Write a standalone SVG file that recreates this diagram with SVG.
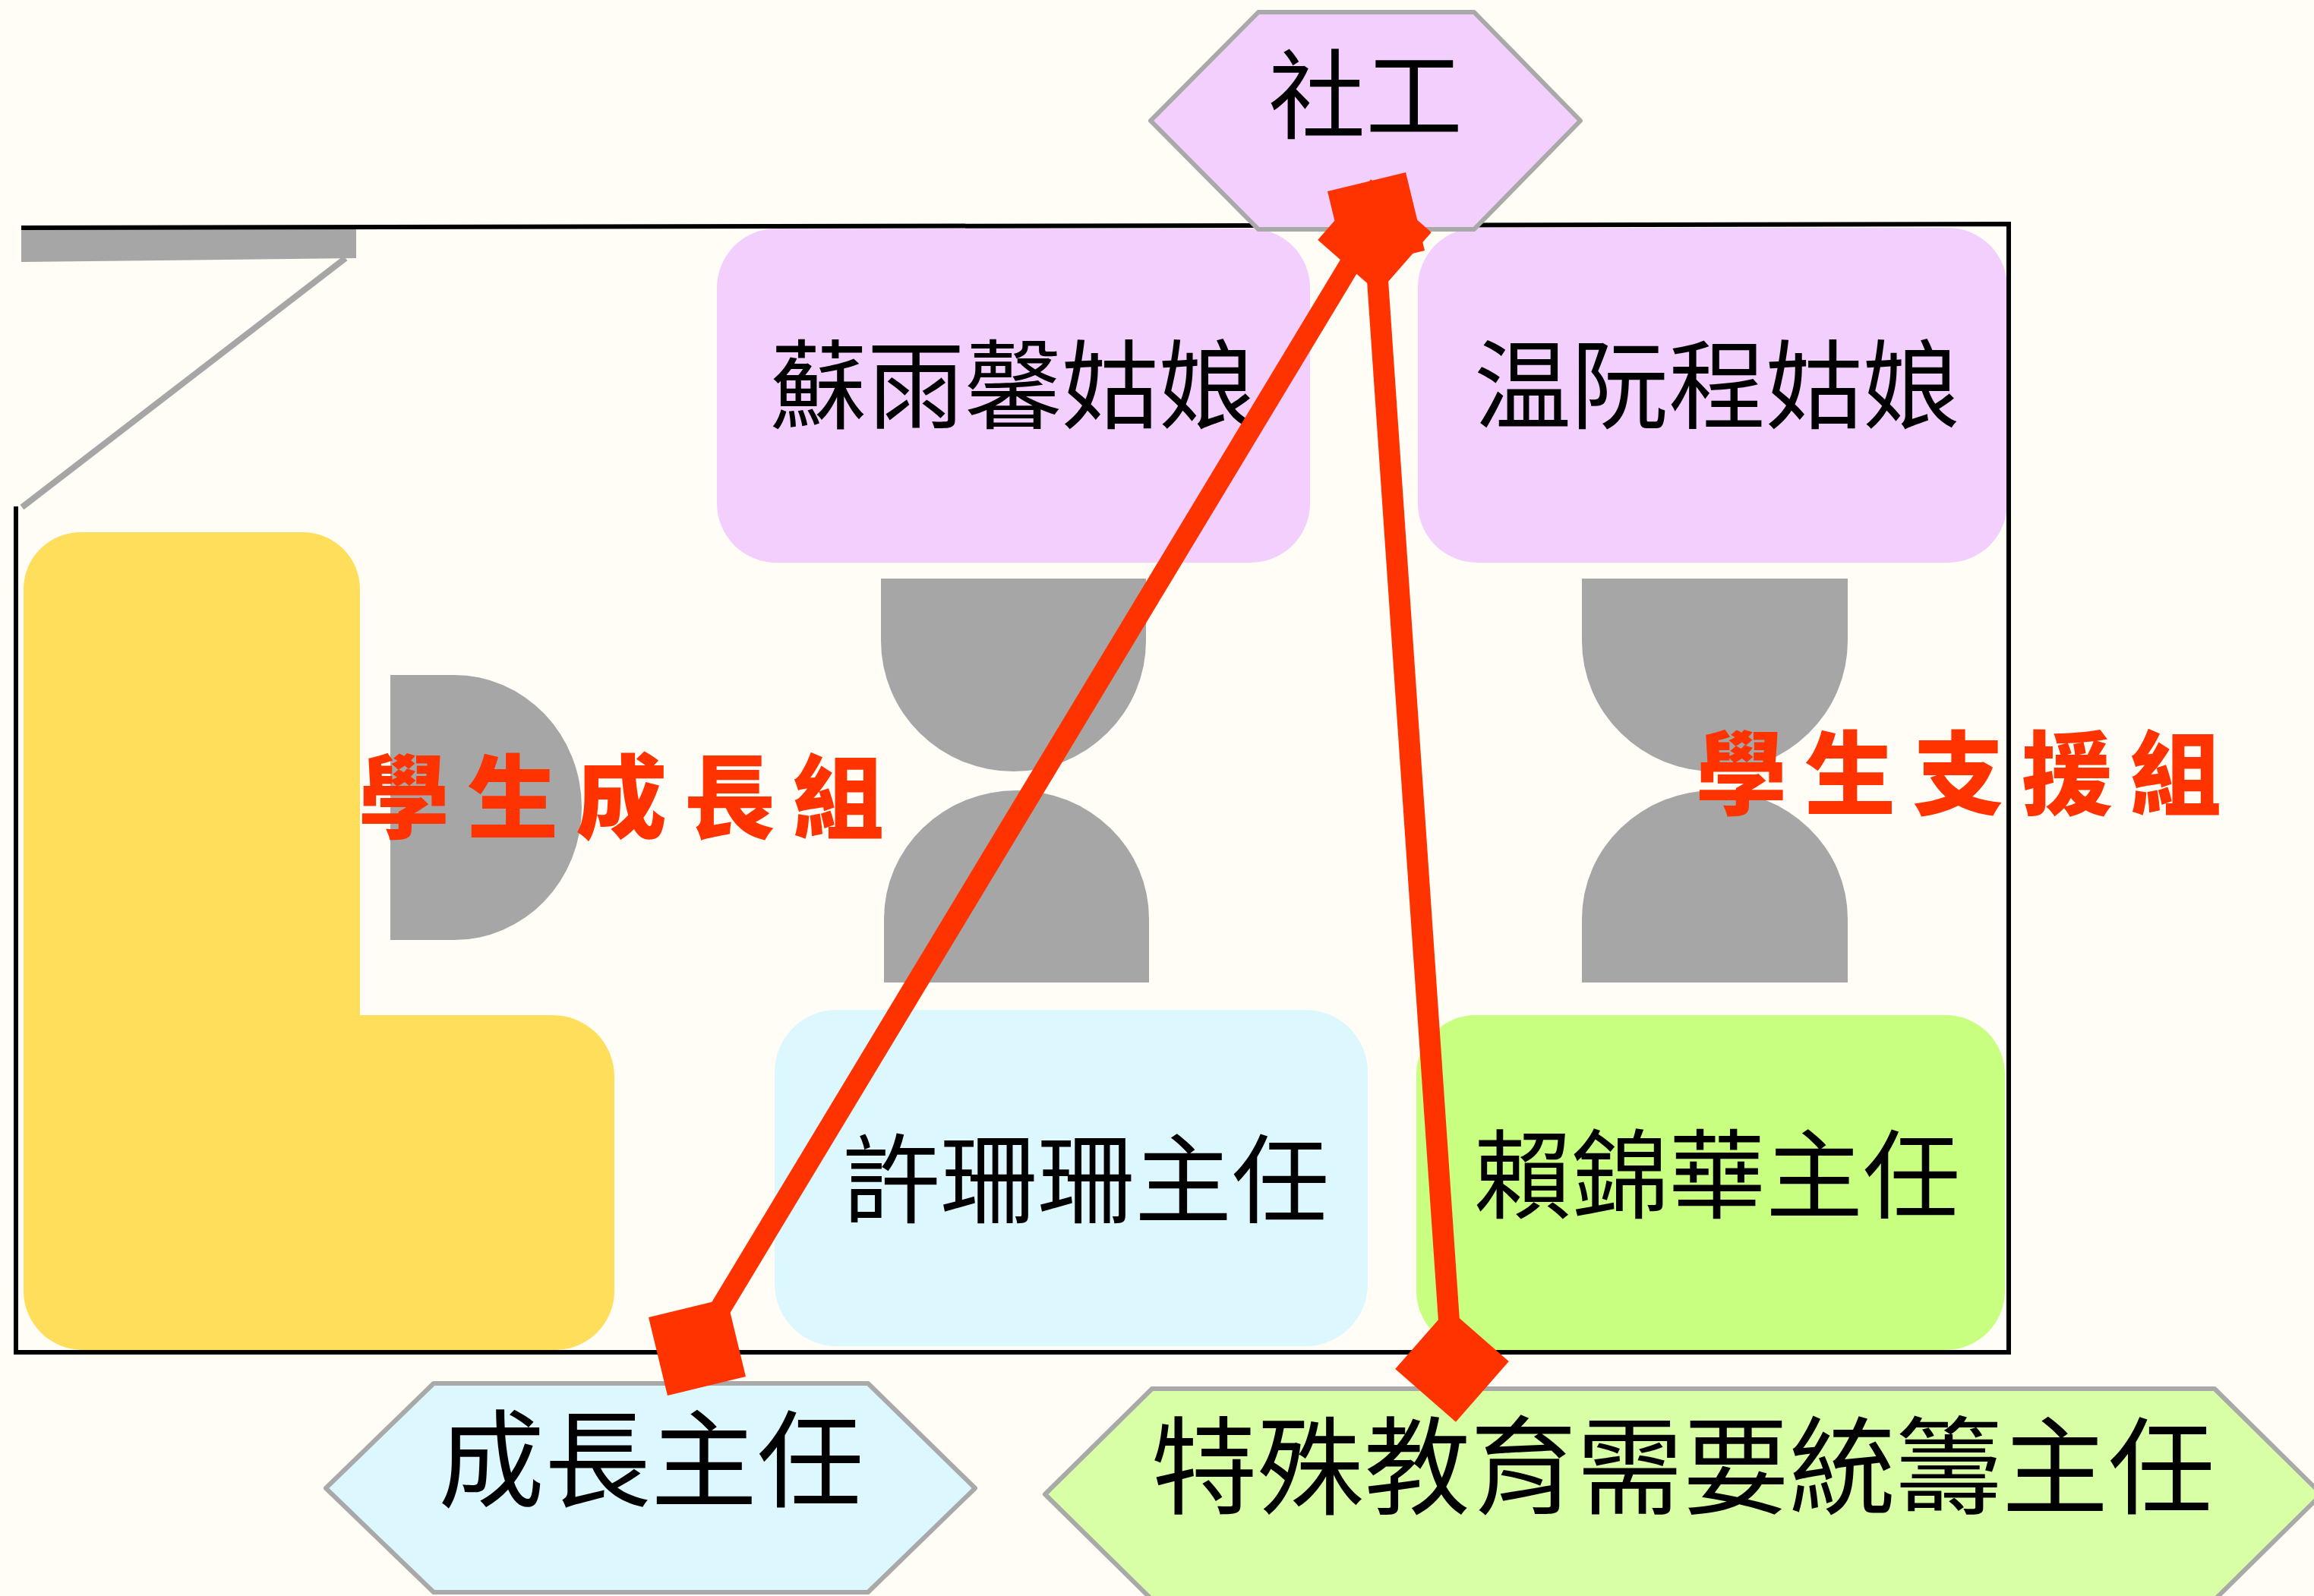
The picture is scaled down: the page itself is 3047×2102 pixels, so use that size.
<svg xmlns="http://www.w3.org/2000/svg" xmlns:xlink="http://www.w3.org/1999/xlink" width="3047" height="2102" viewBox="0 0 3047 2102">
<style>
.lbl{font-family:"Noto Sans CJK TC","Noto Sans CJK SC",sans-serif;font-size:128px;fill:#000;text-anchor:middle}
.big{font-size:140px}
.grp{font-family:"Noto Sans CJK TC","Noto Sans CJK SC",sans-serif;font-size:120px;font-weight:900;fill:#ff3300;letter-spacing:23px}
.hex{stroke:#a9a9a9;stroke-width:6;stroke-linejoin:round}
.desk{fill:#a6a6a6}
.conn{stroke:#ff3300;stroke-width:28;fill:none}
.mk{fill:#ff3300}
</style>
<defs>
<rect id="mk" x="-53" y="-53" width="106" height="106"/>
</defs>
<rect width="3047" height="2102" fill="#fffdf6"/>

<g id="door">
<polygon points="28,302 469,302 469,340 28,345" fill="#a6a6a6"/>
<line x1="455" y1="340" x2="29" y2="668" stroke="#a6a6a6" stroke-width="8"/>
</g>

<g id="cabinet">
<path d="M31,776 A75,75 0 0 1 106,701 L399,701 A75,75 0 0 1 474,776 L474,1337 L728,1337 A81,81 0 0 1 809,1418 L809,1700 A78,78 0 0 1 731,1778 L109,1778 A78,78 0 0 1 31,1700 Z" fill="#ffde5c"/>
</g>

<g id="desks">
<path class="desk" d="M514,889 L598,889 A168,174.5 0 0 1 598,1238 L514,1238 Z"/>
<path class="desk" d="M1160,762 L1509,762 L1509,844 A174.5,172 0 0 1 1160,844 Z"/>
<path class="desk" d="M1164,1294 L1513,1294 L1513,1210 A174.5,169 0 0 0 1164,1210 Z"/>
<path class="desk" d="M2083,762 L2433,762 L2433,844 A175,172 0 0 1 2083,844 Z"/>
<path class="desk" d="M2083,1294 L2433,1294 L2433,1210 A175,169 0 0 0 2083,1210 Z"/>
</g>

<g id="node-su">
<rect x="944" y="301" width="781" height="440" rx="78" fill="#f3cffe"/>
<text class="lbl" x="1334" y="555">蘇雨馨姑娘</text>
</g>
<g id="node-wan">
<rect x="1867" y="300" width="776" height="441" rx="78" fill="#f3cffe"/>
<text class="lbl" x="2261" y="555">温阮程姑娘</text>
</g>
<g id="node-hui">
<rect x="1020" y="1330" width="781" height="443" rx="82" fill="#ddf7ff"/>
<text class="lbl" x="1430" y="1601">許珊珊主任</text>
</g>
<g id="node-lai">
<rect x="1865" y="1337" width="775" height="441" rx="78" fill="#c8ff80"/>
<text class="lbl" x="2261" y="1595">賴錦華主任</text>
</g>

<g id="room">
<path d="M21,667 L21,1781 L2645,1781 L2645,295 L28,300" fill="none" stroke="#000" stroke-width="6"/>
</g>

<g id="label-growth">
<text class="grp" x="472" y="1095">學生成長組</text>
</g>
<g id="label-support">
<text class="grp" x="2233" y="1064">學生支援組</text>
</g>

<g id="node-social">
<polygon class="hex" points="1515,159 1657,16 1941,16 2081,159 1941,302 1657,302" fill="#f3cffe"/>
<text class="lbl" x="1798" y="173">社工</text>
</g>
<g id="node-growth-head">
<polygon class="hex" points="429,1960 571,1822 1143,1822 1284,1960 1143,2097 571,2097" fill="#ddf7ff"/>
<text class="lbl big" x="857" y="1974">成長主任</text>
</g>
<g id="node-sen">
<polygon class="hex" points="1376,1968 1517,1829 2916,1829 3057,1968 2916,2107 1517,2107" fill="#d9ffa6"/>
<text class="lbl big" x="2216" y="1983">特殊教育需要統籌主任</text>
</g>

<g id="connectors">
<line class="conn" x1="918" y1="1774" x2="1812" y2="291"/>
<line class="conn" x1="1810" y1="311" x2="1912" y2="1798"/>
<use href="#mk" class="mk" transform="translate(918,1774) rotate(-13.6)"/>
<use href="#mk" class="mk" transform="translate(1812,291) rotate(-13.6)"/>
<use href="#mk" class="mk" transform="translate(1912,1798) rotate(41.2)"/>
<use href="#mk" class="mk" transform="translate(1810,311) rotate(41.2)"/>
</g>
</svg>
